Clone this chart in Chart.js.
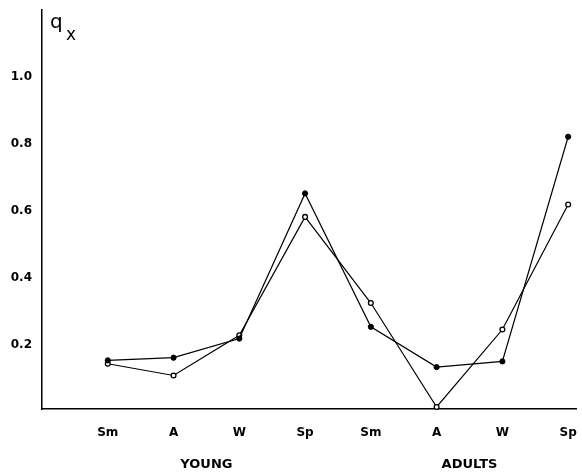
<!DOCTYPE html>
<html>
<head>
<meta charset="utf-8">
<script src="https://cdn.jsdelivr.net/npm/chart.js@4/dist/chart.umd.min.js"></script>
<style>
  html, body { margin: 0; padding: 0; background: #fff; }
  #wrap { width: 582px; height: 476px; position: relative; }
</style>
</head>
<body>
<div id="wrap"><canvas id="chart"></canvas></div>
<script>
// seasons along the axis, young then adults
const categories = ['Sm', 'A', 'W', 'Sp', 'Sm', 'A', 'W', 'Sp'];
const groupLabels = ['YOUNG', 'ADULTS'];
const groupCenters = [2.5, 6.5];
const yTicks = [0.2, 0.4, 0.6, 0.8, 1.0];

// q_x values
const filledValues = [0.155, 0.163, 0.22, 0.653, 0.255, 0.135, 0.152, 0.822];
const openValues = [0.145, 0.11, 0.23, 0.583, 0.326, 0.016, 0.247, 0.62];

const toPoints = vals => vals.map((v, i) => ({ x: i + 1, y: v }));

const extraText = {
    id: 'extraText',
    afterDraw(chart) {
        const ctx = chart.ctx;
        const xs = chart.scales.x;
        ctx.save();
        ctx.fillStyle = '#000';
        // axis name q with subscript x
        ctx.textAlign = 'left';
        ctx.textBaseline = 'alphabetic';
        ctx.font = '20px "DejaVu Sans"';
        ctx.fillText('q', 50, 28);
        ctx.font = '17px "DejaVu Sans"';
        ctx.fillText('x', 66, 40);
        // group names under the seasons
        ctx.textAlign = 'center';
        ctx.textBaseline = 'middle';
        ctx.font = 'bold 13px "DejaVu Sans"';
        groupLabels.forEach((g, i) => {
            ctx.fillText(g, xs.getPixelForValue(groupCenters[i]), 465);
        });
        ctx.restore();
    }
};

new Chart(document.getElementById('chart'), {
    type: 'line',
    data: {
        datasets: [{
            label: 'filled',
            data: toPoints(filledValues),
            borderColor: '#000',
            borderWidth: 1.2,
            pointRadius: 2.6,
            pointBackgroundColor: '#000',
            pointBorderColor: '#000',
            pointBorderWidth: 1,
            tension: 0,
            clip: false
        }, {
            label: 'open',
            data: toPoints(openValues),
            borderColor: '#000',
            borderWidth: 1.2,
            pointRadius: 2.4,
            pointBackgroundColor: '#fff',
            pointBorderColor: '#000',
            pointBorderWidth: 1.3,
            tension: 0,
            clip: false
        }]
    },
    options: {
        responsive: true,
        maintainAspectRatio: false,
        animation: false,
        layout: { padding: { top: 10, right: 0, left: 0, bottom: 0 } },
        plugins: {
            legend: { display: false },
            tooltip: { enabled: false }
        },
        scales: {
            x: {
                type: 'linear',
                min: 0,
                max: 8.13,
                afterBuildTicks: s => { s.ticks = categories.map((c, i) => ({ value: i + 1 })); },
                afterFit: s => { s.height = 67; s.paddingLeft = 0; s.paddingRight = 0; },
                ticks: {
                    callback: v => categories[v - 1],
                    color: '#000',
                    font: { family: 'DejaVu Sans', size: 12, weight: 'bold' },
                    padding: 17,
                    maxRotation: 0,
                    autoSkip: false
                },
                grid: { display: false, drawTicks: false },
                border: { display: true, color: '#000', width: 1.5 }
            },
            y: {
                min: 0.01,
                max: 1.2,
                afterBuildTicks: s => { s.ticks = yTicks.map(v => ({ value: v })); },
                afterFit: s => { s.width = 42; s.paddingTop = 0; s.paddingBottom = 0; },
                ticks: {
                    callback: v => v.toFixed(1),
                    color: '#000',
                    font: { family: 'DejaVu Sans', size: 12, weight: 'bold' },
                    padding: 10
                },
                grid: { display: false, drawTicks: false },
                border: { display: true, color: '#000', width: 1.5 }
            }
        }
    },
    plugins: [extraText]
});
</script>
</body>
</html>
